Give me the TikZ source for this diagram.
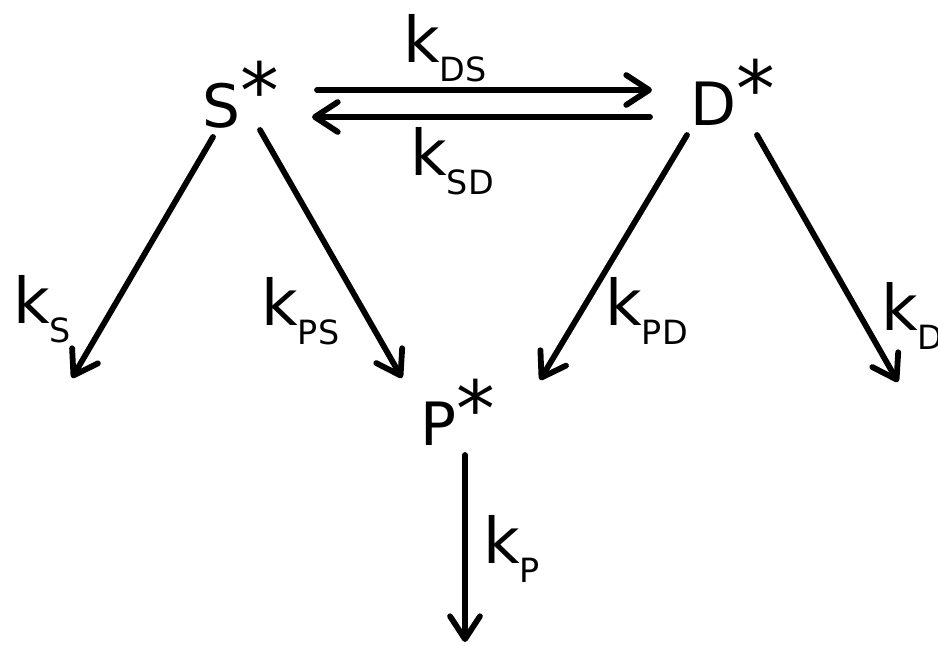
\documentclass[tikz,border=0pt]{standalone}
\usepackage{fontspec}
\setmainfont{DejaVu Sans}
\usetikzlibrary{arrows.meta, calc}
\newcommand{\rate}[1]{{\fontsize{36}{40}\selectfont k}\raisebox{-11pt}{\fontsize{19}{22}\selectfont #1}}
\newcommand{\excited}{\raisebox{5pt}{\fontsize{44}{44}\selectfont *}}

\begin{document}
\begin{tikzpicture}[
    x=0.02cm, y=-0.02cm,
    every node/.style={inner sep=0pt, anchor=base west},
    species/.style={font=\fontsize{34}{40}\selectfont},
    rate/.style={},
    decay/.style={-{Straight Barb[length=13pt, width=17pt, round]}, line width=3.3pt, line cap=round}
]
\useasboundingbox (0,0) rectangle (938,646);

% Excited states
\node[species] (S) at (202,127) {S\excited};
\node[species] (D) at (690,125) {D\excited};
\node[species] (P) at (420,445) {P\excited};

% Free ends of the decay arrows
\coordinate (sOut) at (72,378);
\coordinate (dOut) at (898,382);
\coordinate (pOut) at (465,642);

% Exchange S* <-> D*
\draw[decay] ($(S.base west)+(115,-37)$) -- ($(D.base west)+(-38,-35)$);
\draw[decay] ($(D.base west)+(-40,-8)$) -- ($(S.base west)+(110,-10)$);

% Decay and conversion arrows
\draw[decay] ($(S.base west)+(11,10)$) -- (sOut);
\draw[decay] ($(S.base west)+(58,3)$) -- ($(P.base west)+(-18,-67)$);
\draw[decay] ($(D.base west)+(-3,10)$) -- ($(P.base west)+(120,-65)$);
\draw[decay] ($(D.base west)+(67,10)$) -- (dOut);
\draw[decay] ($(P.base west)+(45,10)$) -- (pOut);

% Rate constants
\node[rate] (kds) at (403,62) {\rate{DS}};
\node[rate] (ksd) at (410,175) {\rate{SD}};
\node[rate] (ks) at (13,323) {\rate{S}};
\node[rate] (kps) at (261,325) {\rate{PS}};
\node[rate] (kpd) at (605,325) {\rate{PD}};
\node[rate] (kd) at (881,330) {\rate{D}};
\node[rate] (kp) at (483,563) {\rate{P}};

\end{tikzpicture}
\end{document}
